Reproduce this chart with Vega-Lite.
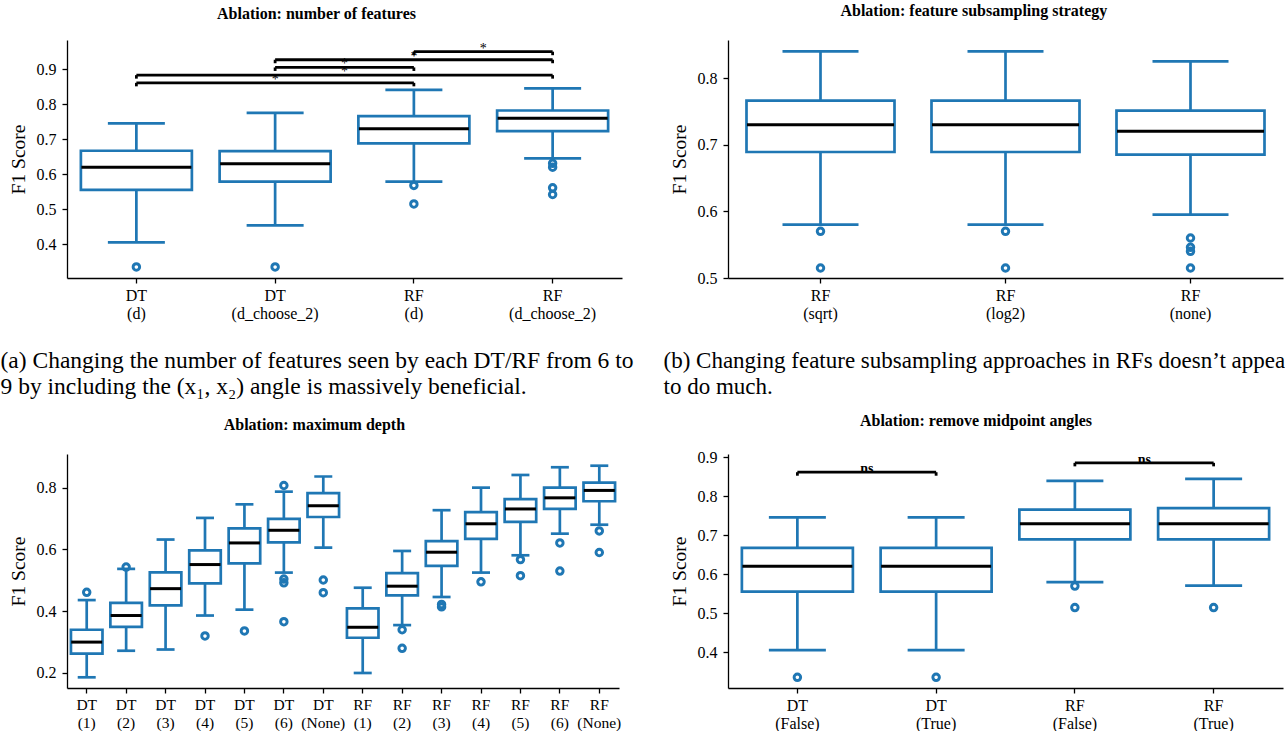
{
  "$schema": "https://vega.github.io/schema/vega-lite/v6.json",
  "background": "white",
  "padding": {"left": 0, "top": 2, "right": 0, "bottom": 0},
  "bounds": "flush",
  "columns": 2,
  "spacing": {"row": 176, "column": 106},
  "config": {
    "font": "Liberation Serif",
    "view": {"stroke": null},
    "axis": {"grid": false, "labelFont": "Liberation Serif", "titleFont": "Liberation Serif", "labelFontSize": 16, "titleFontSize": 19.5, "titleFontWeight": "normal", "labelColor": "black", "titleColor": "black", "domainColor": "black", "tickColor": "black", "domainWidth": 1.3, "tickWidth": 1.3, "tickSize": 5},
    "axisY": {"labelPadding": 6, "titlePadding": 8},
    "axisX": {"labelAngle": 0, "labelPadding": 4, "labelLineHeight": 18, "labelOverlap": false, "labelBound": false, "labelFlush": false},
    "title": {"font": "Liberation Serif", "fontSize": 16, "fontWeight": "bold", "color": "black", "anchor": "middle", "frame": "bounds"}
  },
  "datasets": {
    "b1": [
      {"g": "DT (d)", "lo": 0.405, "q1": 0.555, "med": 0.62, "q3": 0.667, "hi": 0.745},
      {"g": "DT (d_choose_2)", "lo": 0.454, "q1": 0.579, "med": 0.63, "q3": 0.666, "hi": 0.775},
      {"g": "RF (d)", "lo": 0.579, "q1": 0.688, "med": 0.73, "q3": 0.766, "hi": 0.841},
      {"g": "RF (d_choose_2)", "lo": 0.645, "q1": 0.723, "med": 0.76, "q3": 0.782, "hi": 0.845}
    ],
    "o1": [
      {"g": "DT (d)", "v": 0.335},
      {"g": "DT (d_choose_2)", "v": 0.335},
      {"g": "RF (d)", "v": 0.568},
      {"g": "RF (d)", "v": 0.515},
      {"g": "RF (d_choose_2)", "v": 0.631},
      {"g": "RF (d_choose_2)", "v": 0.62},
      {"g": "RF (d_choose_2)", "v": 0.561},
      {"g": "RF (d_choose_2)", "v": 0.542}
    ],
    "s1": [
      {"a": 0, "b": 2, "m": 1, "y": 0.861, "t": "*"},
      {"a": 0, "b": 3, "m": 1.5, "y": 0.883, "t": "*"},
      {"a": 1, "b": 2, "m": 1.5, "y": 0.905, "t": "*"},
      {"a": 1, "b": 3, "m": 2, "y": 0.927, "t": "*"},
      {"a": 2, "b": 3, "m": 2.5, "y": 0.95, "t": "*"}
    ],
    "b2": [
      {"g": "RF (sqrt)", "lo": 0.58, "q1": 0.689, "med": 0.73, "q3": 0.766, "hi": 0.84},
      {"g": "RF (log2)", "lo": 0.58, "q1": 0.689, "med": 0.73, "q3": 0.766, "hi": 0.84},
      {"g": "RF (none)", "lo": 0.595, "q1": 0.685, "med": 0.72, "q3": 0.751, "hi": 0.825}
    ],
    "o2": [
      {"g": "RF (sqrt)", "v": 0.57},
      {"g": "RF (sqrt)", "v": 0.515},
      {"g": "RF (log2)", "v": 0.57},
      {"g": "RF (log2)", "v": 0.515},
      {"g": "RF (none)", "v": 0.56},
      {"g": "RF (none)", "v": 0.546},
      {"g": "RF (none)", "v": 0.54},
      {"g": "RF (none)", "v": 0.515}
    ],
    "b3": [
      {"g": "DT (1)", "lo": 0.186, "q1": 0.263, "med": 0.3, "q3": 0.34, "hi": 0.436},
      {"g": "DT (2)", "lo": 0.272, "q1": 0.349, "med": 0.386, "q3": 0.427, "hi": 0.537},
      {"g": "DT (3)", "lo": 0.276, "q1": 0.419, "med": 0.473, "q3": 0.526, "hi": 0.632},
      {"g": "DT (4)", "lo": 0.386, "q1": 0.49, "med": 0.551, "q3": 0.597, "hi": 0.702},
      {"g": "DT (5)", "lo": 0.405, "q1": 0.555, "med": 0.621, "q3": 0.668, "hi": 0.746},
      {"g": "DT (6)", "lo": 0.525, "q1": 0.623, "med": 0.662, "q3": 0.699, "hi": 0.787},
      {"g": "DT (None)", "lo": 0.606, "q1": 0.705, "med": 0.741, "q3": 0.782, "hi": 0.836},
      {"g": "RF (1)", "lo": 0.2, "q1": 0.314, "med": 0.348, "q3": 0.409, "hi": 0.476},
      {"g": "RF (2)", "lo": 0.355, "q1": 0.451, "med": 0.481, "q3": 0.523, "hi": 0.595},
      {"g": "RF (3)", "lo": 0.446, "q1": 0.547, "med": 0.591, "q3": 0.627, "hi": 0.727},
      {"g": "RF (4)", "lo": 0.525, "q1": 0.634, "med": 0.683, "q3": 0.721, "hi": 0.8},
      {"g": "RF (5)", "lo": 0.581, "q1": 0.689, "med": 0.731, "q3": 0.763, "hi": 0.841},
      {"g": "RF (6)", "lo": 0.651, "q1": 0.731, "med": 0.767, "q3": 0.8, "hi": 0.866},
      {"g": "RF (None)", "lo": 0.68, "q1": 0.756, "med": 0.791, "q3": 0.816, "hi": 0.871}
    ],
    "o3": [
      {"g": "DT (1)", "v": 0.461},
      {"g": "DT (2)", "v": 0.543},
      {"g": "DT (4)", "v": 0.32},
      {"g": "DT (5)", "v": 0.336},
      {"g": "DT (6)", "v": 0.807},
      {"g": "DT (6)", "v": 0.504},
      {"g": "DT (6)", "v": 0.492},
      {"g": "DT (6)", "v": 0.366},
      {"g": "DT (None)", "v": 0.501},
      {"g": "DT (None)", "v": 0.46},
      {"g": "RF (2)", "v": 0.34},
      {"g": "RF (2)", "v": 0.28},
      {"g": "RF (3)", "v": 0.422},
      {"g": "RF (3)", "v": 0.414},
      {"g": "RF (4)", "v": 0.495},
      {"g": "RF (5)", "v": 0.567},
      {"g": "RF (5)", "v": 0.515},
      {"g": "RF (6)", "v": 0.621},
      {"g": "RF (6)", "v": 0.53},
      {"g": "RF (None)", "v": 0.66},
      {"g": "RF (None)", "v": 0.59}
    ],
    "b4": [
      {"g": "DT (False)", "lo": 0.405, "q1": 0.555, "med": 0.62, "q3": 0.667, "hi": 0.745},
      {"g": "DT (True)", "lo": 0.405, "q1": 0.555, "med": 0.62, "q3": 0.667, "hi": 0.745},
      {"g": "RF (False)", "lo": 0.579, "q1": 0.689, "med": 0.729, "q3": 0.765, "hi": 0.839},
      {"g": "RF (True)", "lo": 0.57, "q1": 0.689, "med": 0.729, "q3": 0.769, "hi": 0.844}
    ],
    "o4": [
      {"g": "DT (False)", "v": 0.335},
      {"g": "DT (True)", "v": 0.335},
      {"g": "RF (False)", "v": 0.569},
      {"g": "RF (False)", "v": 0.514},
      {"g": "RF (True)", "v": 0.514}
    ],
    "s4": [
      {"a": 0, "b": 1, "m": 0.5, "y": 0.861, "t": "ns"},
      {"a": 2, "b": 3, "m": 2.5, "y": 0.885, "t": "ns"}
    ]
  },
  "concat": [
    {
      "title": {"text": "Ablation: number of features", "offset": 18},
      "width": 555,
      "height": 238,
      "resolve": {"scale": {"x": "independent"}},
      "layer": [
        {
          "encoding": {
            "x": {"field": "g", "type": "nominal", "scale": {"domain": ["DT (d)", "DT (d_choose_2)", "RF (d)", "RF (d_choose_2)"], "paddingInner": 0, "paddingOuter": 0},
              "axis": {"labelExpr": "split(datum.label, ' ')", "title": ["(a) Changing the number of features seen by each DT/RF from 6 to", "9 by including the (x₁, x₂) angle is massively beneficial."], "titleFont": "Liberation Serif", "titleFontSize": 23.5, "titleFontWeight": "normal", "titleAnchor": "start", "titleAlign": "left", "titleBaseline": "alphabetic", "titleX": -67, "titleY": 89.4, "titleLineHeight": 26.3}}
          },
          "layer": [
            {"data": {"name": "b1"}, "mark": {"type": "rule", "color": "#1f77b4", "strokeWidth": 2.7},
              "encoding": {"y": {"field": "lo", "type": "quantitative", "title": "F1 Score", "scale": {"domain": [0.3034, 0.9834], "nice": false, "zero": false}, "axis": {"values": [0.4, 0.5, 0.6, 0.7, 0.8, 0.9], "format": ".1f"}}, "y2": {"field": "hi"}}},
            {"data": {"name": "b1"}, "mark": {"type": "bar", "width": {"band": 0.8}, "fill": "white", "stroke": "#1f77b4", "strokeWidth": 2.7},
              "encoding": {"y": {"field": "q1", "type": "quantitative", "title": "F1 Score"}, "y2": {"field": "q3"}}},
            {"data": {"name": "b1"}, "mark": {"type": "tick", "color": "black", "thickness": 3, "size": 110, "opacity": 1},
              "encoding": {"y": {"field": "med", "type": "quantitative", "title": "F1 Score"}}},
            {"data": {"name": "b1"}, "mark": {"type": "tick", "color": "#1f77b4", "thickness": 2.7, "size": 57, "opacity": 1},
              "encoding": {"y": {"field": "lo", "type": "quantitative", "title": "F1 Score"}}},
            {"data": {"name": "b1"}, "mark": {"type": "tick", "color": "#1f77b4", "thickness": 2.7, "size": 57, "opacity": 1},
              "encoding": {"y": {"field": "hi", "type": "quantitative", "title": "F1 Score"}}},
            {"data": {"name": "o1"}, "mark": {"type": "point", "shape": "circle", "filled": false, "color": "#1f77b4", "strokeWidth": 3, "size": 42, "opacity": 1},
              "encoding": {"y": {"field": "v", "type": "quantitative", "title": "F1 Score"}}}
          ]
        },
        {
          "data": {"name": "s1"},
          "encoding": {"y": {"field": "y", "type": "quantitative", "title": "F1 Score", "scale": {"domain": [0.3034, 0.9834], "nice": false, "zero": false}}},
          "layer": [
            {"mark": {"type": "rule", "color": "black", "strokeWidth": 2.8},
              "encoding": {"x": {"field": "a", "type": "quantitative", "scale": {"domain": [-0.5, 3.5], "nice": false, "zero": false}, "axis": null}, "x2": {"field": "b"}}},
            {"mark": {"type": "point", "shape": "M0,0L0,1", "filled": false, "color": "black", "strokeWidth": 2.8, "size": 49, "opacity": 1},
              "encoding": {"x": {"field": "a", "type": "quantitative"}}},
            {"mark": {"type": "point", "shape": "M0,0L0,1", "filled": false, "color": "black", "strokeWidth": 2.8, "size": 49, "opacity": 1},
              "encoding": {"x": {"field": "b", "type": "quantitative"}}},
            {"mark": {"type": "text", "font": "Liberation Serif", "fontSize": 14, "fontWeight": "normal", "baseline": "alphabetic", "dy": 1, "color": "black"},
              "encoding": {"x": {"field": "m", "type": "quantitative"}, "text": {"field": "t"}}}
          ]
        }
      ]
    },
    {
      "title": {"text": "Ablation: feature subsampling strategy", "offset": 21.5},
      "width": 555,
      "height": 238,
      "encoding": {
        "x": {"field": "g", "type": "nominal", "scale": {"domain": ["RF (sqrt)", "RF (log2)", "RF (none)"], "paddingInner": 0, "paddingOuter": 0},
          "axis": {"labelExpr": "split(datum.label, ' ')", "title": ["(b) Changing feature subsampling approaches in RFs doesn’t appea", "to do much."], "titleFont": "Liberation Serif", "titleFontSize": 23, "titleFontWeight": "normal", "titleAnchor": "start", "titleAlign": "left", "titleBaseline": "alphabetic", "titleX": -65, "titleY": 89.4, "titleLineHeight": 26.3}}
      },
      "layer": [
        {"data": {"name": "b2"}, "mark": {"type": "rule", "color": "#1f77b4", "strokeWidth": 2.7},
          "encoding": {"y": {"field": "lo", "type": "quantitative", "title": "F1 Score", "scale": {"domain": [0.5, 0.857], "nice": false, "zero": false}, "axis": {"values": [0.5, 0.6, 0.7, 0.8], "format": ".1f"}}, "y2": {"field": "hi"}}},
        {"data": {"name": "b2"}, "mark": {"type": "bar", "width": {"band": 0.8}, "fill": "white", "stroke": "#1f77b4", "strokeWidth": 2.7},
          "encoding": {"y": {"field": "q1", "type": "quantitative", "title": "F1 Score"}, "y2": {"field": "q3"}}},
        {"data": {"name": "b2"}, "mark": {"type": "tick", "color": "black", "thickness": 3, "size": 147, "opacity": 1},
          "encoding": {"y": {"field": "med", "type": "quantitative", "title": "F1 Score"}}},
        {"data": {"name": "b2"}, "mark": {"type": "tick", "color": "#1f77b4", "thickness": 2.7, "size": 76, "opacity": 1},
          "encoding": {"y": {"field": "lo", "type": "quantitative", "title": "F1 Score"}}},
        {"data": {"name": "b2"}, "mark": {"type": "tick", "color": "#1f77b4", "thickness": 2.7, "size": 76, "opacity": 1},
          "encoding": {"y": {"field": "hi", "type": "quantitative", "title": "F1 Score"}}},
        {"data": {"name": "o2"}, "mark": {"type": "point", "shape": "circle", "filled": false, "color": "#1f77b4", "strokeWidth": 3, "size": 42, "opacity": 1},
          "encoding": {"y": {"field": "v", "type": "quantitative", "title": "F1 Score"}}}
      ]
    },
    {
      "title": {"text": "Ablation: maximum depth", "offset": 21},
      "width": 552,
      "height": 234,
      "encoding": {
        "x": {"field": "g", "type": "nominal", "scale": {"domain": ["DT (1)", "DT (2)", "DT (3)", "DT (4)", "DT (5)", "DT (6)", "DT (None)", "RF (1)", "RF (2)", "RF (3)", "RF (4)", "RF (5)", "RF (6)", "RF (None)"], "paddingInner": 0, "paddingOuter": 0},
          "axis": {"labelExpr": "split(datum.label, ' ')", "title": null, "labelFontSize": 15.5}}
      },
      "layer": [
        {"data": {"name": "b3"}, "mark": {"type": "rule", "color": "#1f77b4", "strokeWidth": 2.7},
          "encoding": {"y": {"field": "lo", "type": "quantitative", "title": "F1 Score", "scale": {"domain": [0.1514, 0.9089], "nice": false, "zero": false}, "axis": {"values": [0.2, 0.4, 0.6, 0.8], "format": ".1f"}}, "y2": {"field": "hi"}}},
        {"data": {"name": "b3"}, "mark": {"type": "bar", "width": {"band": 0.8}, "fill": "white", "stroke": "#1f77b4", "strokeWidth": 2.7},
          "encoding": {"y": {"field": "q1", "type": "quantitative", "title": "F1 Score"}, "y2": {"field": "q3"}}},
        {"data": {"name": "b3"}, "mark": {"type": "tick", "color": "black", "thickness": 3, "size": 31, "opacity": 1},
          "encoding": {"y": {"field": "med", "type": "quantitative", "title": "F1 Score"}}},
        {"data": {"name": "b3"}, "mark": {"type": "tick", "color": "#1f77b4", "thickness": 2.7, "size": 18, "opacity": 1},
          "encoding": {"y": {"field": "lo", "type": "quantitative", "title": "F1 Score"}}},
        {"data": {"name": "b3"}, "mark": {"type": "tick", "color": "#1f77b4", "thickness": 2.7, "size": 18, "opacity": 1},
          "encoding": {"y": {"field": "hi", "type": "quantitative", "title": "F1 Score"}}},
        {"data": {"name": "o3"}, "mark": {"type": "point", "shape": "circle", "filled": false, "color": "#1f77b4", "strokeWidth": 3, "size": 42, "opacity": 1},
          "encoding": {"y": {"field": "v", "type": "quantitative", "title": "F1 Score"}}}
      ]
    },
    {
      "title": {"text": "Ablation: remove midpoint angles", "offset": 20.5},
      "width": 555,
      "height": 234,
      "resolve": {"scale": {"x": "independent"}},
      "layer": [
        {
          "encoding": {
            "x": {"field": "g", "type": "nominal", "scale": {"domain": ["DT (False)", "DT (True)", "RF (False)", "RF (True)"], "paddingInner": 0, "paddingOuter": 0},
              "axis": {"labelExpr": "split(datum.label, ' ')", "title": null}}
          },
          "layer": [
            {"data": {"name": "b4"}, "mark": {"type": "rule", "color": "#1f77b4", "strokeWidth": 2.7},
              "encoding": {"y": {"field": "lo", "type": "quantitative", "title": "F1 Score", "scale": {"domain": [0.3077, 0.9077], "nice": false, "zero": false}, "axis": {"values": [0.4, 0.5, 0.6, 0.7, 0.8, 0.9], "format": ".1f"}}, "y2": {"field": "hi"}}},
            {"data": {"name": "b4"}, "mark": {"type": "bar", "width": {"band": 0.8}, "fill": "white", "stroke": "#1f77b4", "strokeWidth": 2.7},
              "encoding": {"y": {"field": "q1", "type": "quantitative", "title": "F1 Score"}, "y2": {"field": "q3"}}},
            {"data": {"name": "b4"}, "mark": {"type": "tick", "color": "black", "thickness": 3, "size": 110, "opacity": 1},
              "encoding": {"y": {"field": "med", "type": "quantitative", "title": "F1 Score"}}},
            {"data": {"name": "b4"}, "mark": {"type": "tick", "color": "#1f77b4", "thickness": 2.7, "size": 57, "opacity": 1},
              "encoding": {"y": {"field": "lo", "type": "quantitative", "title": "F1 Score"}}},
            {"data": {"name": "b4"}, "mark": {"type": "tick", "color": "#1f77b4", "thickness": 2.7, "size": 57, "opacity": 1},
              "encoding": {"y": {"field": "hi", "type": "quantitative", "title": "F1 Score"}}},
            {"data": {"name": "o4"}, "mark": {"type": "point", "shape": "circle", "filled": false, "color": "#1f77b4", "strokeWidth": 3, "size": 42, "opacity": 1},
              "encoding": {"y": {"field": "v", "type": "quantitative", "title": "F1 Score"}}}
          ]
        },
        {
          "data": {"name": "s4"},
          "encoding": {"y": {"field": "y", "type": "quantitative", "title": "F1 Score", "scale": {"domain": [0.3077, 0.9077], "nice": false, "zero": false}}},
          "layer": [
            {"mark": {"type": "rule", "color": "black", "strokeWidth": 2.8},
              "encoding": {"x": {"field": "a", "type": "quantitative", "scale": {"domain": [-0.5, 3.5], "nice": false, "zero": false}, "axis": null}, "x2": {"field": "b"}}},
            {"mark": {"type": "point", "shape": "M0,0L0,1", "filled": false, "color": "black", "strokeWidth": 2.8, "size": 49, "opacity": 1},
              "encoding": {"x": {"field": "a", "type": "quantitative"}}},
            {"mark": {"type": "point", "shape": "M0,0L0,1", "filled": false, "color": "black", "strokeWidth": 2.8, "size": 49, "opacity": 1},
              "encoding": {"x": {"field": "b", "type": "quantitative"}}},
            {"mark": {"type": "text", "font": "Liberation Serif", "fontSize": 14, "fontWeight": "bold", "baseline": "alphabetic", "dy": 1, "color": "black"},
              "encoding": {"x": {"field": "m", "type": "quantitative"}, "text": {"field": "t"}}}
          ]
        }
      ]
    }
  ]
}
